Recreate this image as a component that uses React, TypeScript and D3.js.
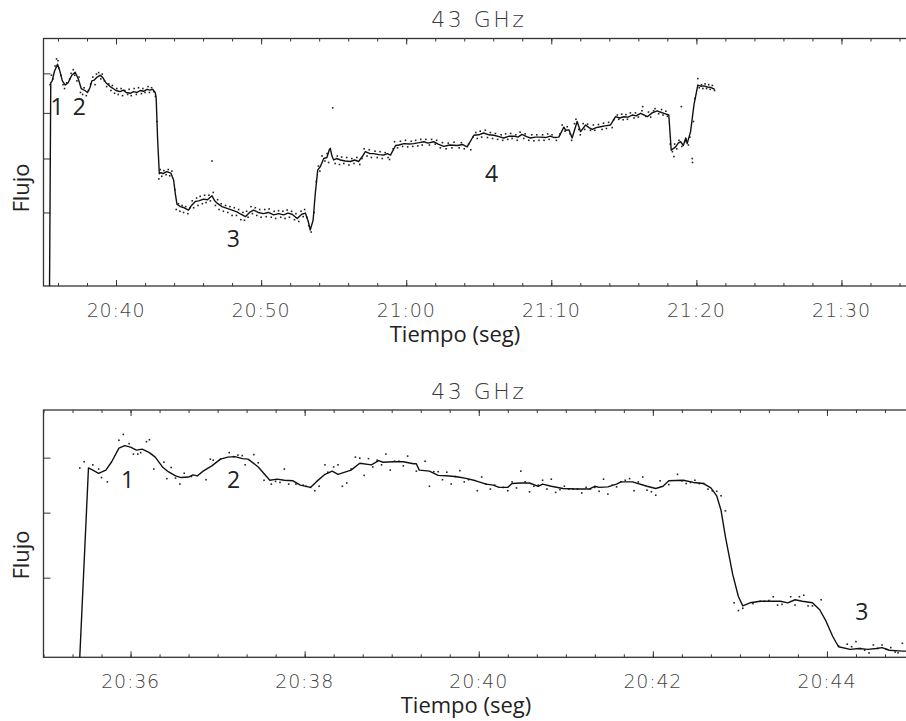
import React, { useRef, useEffect } from 'react';
import * as d3 from 'd3';

// times are minutes after 20:00, flux in arbitrary units (log axis, no labels)

const topLine: [number, number][] = [
    [35.41, 3.9], [35.5, 7.75], [35.6, 7.8], [35.75, 8.05], [35.97, 8.25], [36.1, 8.1], [36.3, 7.8],
    [36.5, 7.69], [36.7, 7.75], [36.95, 7.95], [37.19, 8.03], [37.4, 7.85], [37.6, 7.6], [37.85, 7.55],
    [38.03, 7.5], [38.2, 7.62], [38.34, 7.8], [38.5, 7.82], [38.7, 7.9], [38.91, 7.95], [39.1, 7.88],
    [39.3, 7.75], [39.6, 7.65], [39.8, 7.6], [40.0, 7.55], [40.29, 7.52], [40.5, 7.56], [40.7, 7.5],
    [40.98, 7.48], [41.2, 7.52], [41.45, 7.5], [41.67, 7.55], [41.9, 7.53], [42.13, 7.58], [42.35, 7.56],
    [42.54, 7.58], [42.7, 7.5], [42.77, 7.35], [42.86, 6.4], [42.98, 5.7], [43.1, 5.72], [43.23, 5.7],
    [43.5, 5.74], [43.79, 5.71], [43.97, 5.58], [44.1, 5.3], [44.2, 5.14], [44.43, 5.1], [44.7, 5.08],
    [45.0, 5.04], [45.2, 5.12], [45.46, 5.19], [45.7, 5.2], [46.03, 5.23], [46.3, 5.22], [46.61, 5.29],
    [46.8, 5.2], [46.96, 5.16], [47.3, 5.1], [47.65, 5.07], [48.0, 5.04], [48.34, 5.01], [48.6, 4.97],
    [48.91, 4.93], [49.2, 5.0], [49.48, 5.04], [49.8, 5.0], [50.17, 4.98], [50.5, 5.0], [50.86, 4.96],
    [51.2, 4.98], [51.55, 4.96], [51.85, 4.99], [52.13, 4.97], [52.48, 4.9], [52.8, 4.97], [53.05, 4.99],
    [53.25, 4.85], [53.39, 4.71], [53.58, 4.87], [53.74, 5.33], [53.9, 5.77], [54.09, 5.84], [54.31, 6.0],
    [54.54, 6.02], [54.7, 6.18], [54.77, 6.21], [54.88, 6.05], [55.0, 5.97], [55.2, 6.0], [55.46, 5.97],
    [55.8, 5.95], [56.15, 5.94], [56.45, 5.97], [56.72, 5.94], [57.0, 6.05], [57.19, 6.14], [57.5, 6.1],
    [57.76, 6.1], [58.1, 6.08], [58.45, 6.07], [58.7, 6.1], [58.91, 6.07], [59.26, 6.27], [59.5, 6.28],
    [59.83, 6.31], [60.2, 6.3], [60.52, 6.31], [60.9, 6.33], [61.21, 6.35], [61.5, 6.32], [61.9, 6.35],
    [62.2, 6.3], [62.59, 6.25], [63.0, 6.28], [63.51, 6.27], [63.9, 6.29], [64.2, 6.24], [64.66, 6.49],
    [65.0, 6.5], [65.34, 6.54], [65.7, 6.5], [66.03, 6.49], [66.4, 6.46], [66.72, 6.43], [67.1, 6.47],
    [67.41, 6.47], [67.7, 6.45], [67.99, 6.51], [68.3, 6.46], [68.57, 6.43], [68.9, 6.45], [69.26, 6.45],
    [69.6, 6.44], [69.94, 6.47], [70.2, 6.44], [70.52, 6.45], [70.86, 6.67], [71.0, 6.6], [71.21, 6.61],
    [71.44, 6.43], [71.79, 6.8], [72.01, 6.57], [72.36, 6.72], [72.6, 6.66], [72.82, 6.62], [73.1, 6.66],
    [73.39, 6.68], [73.7, 6.7], [74.08, 6.72], [74.43, 6.91], [74.7, 6.88], [75.0, 6.91], [75.3, 6.9],
    [75.58, 6.95], [75.85, 6.93], [76.15, 6.99], [76.4, 6.95], [76.61, 6.91], [76.95, 7.0], [77.3, 7.05],
    [77.5, 7.02], [77.76, 6.99], [78.1, 6.95], [78.27, 6.17], [78.57, 6.24], [78.75, 6.32], [78.91, 6.35],
    [79.1, 6.27], [79.26, 6.43], [79.37, 6.31], [79.6, 6.57], [79.83, 7.19], [80.1, 7.69], [80.3, 7.66],
    [80.52, 7.67], [80.75, 7.64], [80.98, 7.63], [81.26, 7.58]
];

const topDots: [number, number][] = [
    [35.45, 7.7], [35.55, 7.95], [35.65, 7.85], [35.8, 8.2], [35.9, 8.4], [36.0, 8.35], [36.05, 8.15],
    [36.2, 7.95], [36.35, 7.7], [36.45, 7.6], [36.6, 7.75], [36.8, 7.85], [36.9, 8.0], [37.05, 8.1],
    [37.15, 7.95], [37.3, 7.8], [37.45, 7.9], [37.55, 7.5], [37.7, 7.45], [37.8, 7.62], [37.95, 7.42],
    [38.1, 7.55], [38.25, 7.72], [38.4, 7.9], [38.55, 7.7], [38.65, 7.98], [38.8, 8.02], [38.95, 7.85],
    [39.05, 7.98], [39.2, 7.8], [39.35, 7.65], [39.5, 7.72], [39.65, 7.55], [39.75, 7.68], [39.9, 7.48],
    [40.05, 7.6], [40.15, 7.45], [40.35, 7.6], [40.45, 7.42], [40.6, 7.55], [40.8, 7.45], [40.9, 7.58],
    [41.05, 7.42], [41.25, 7.6], [41.4, 7.45], [41.55, 7.62], [41.75, 7.47], [41.85, 7.6], [42.0, 7.5],
    [42.2, 7.65], [42.3, 7.5], [42.45, 7.62], [42.6, 7.52], [42.72, 7.4], [42.82, 6.8], [42.95, 5.6],
    [43.05, 5.78], [43.15, 5.65], [43.3, 5.76], [43.45, 5.68], [43.6, 5.78], [43.7, 5.66], [43.85, 5.75],
    [44.05, 5.4], [44.15, 5.05], [44.3, 5.15], [44.4, 5.02], [44.55, 5.12], [44.65, 5.0], [44.8, 5.1],
    [44.95, 4.98], [45.1, 5.08], [45.25, 5.2], [45.35, 5.08], [45.55, 5.25], [45.65, 5.12], [45.8, 5.28],
    [45.95, 5.15], [46.1, 5.3], [46.2, 5.17], [46.4, 5.3], [46.5, 5.2], [46.61, 5.95], [46.7, 5.35],
    [46.85, 5.12], [47.0, 5.22], [47.1, 5.05], [47.25, 5.15], [47.4, 5.02], [47.55, 5.12], [47.7, 5.0],
    [47.85, 5.1], [48.0, 4.95], [48.15, 5.08], [48.3, 4.95], [48.45, 5.05], [48.6, 4.88], [48.75, 5.0],
    [48.85, 4.87], [49.0, 5.02], [49.1, 4.92], [49.3, 5.1], [49.4, 4.98], [49.6, 5.08], [49.7, 4.95],
    [49.9, 5.05], [50.0, 4.92], [50.25, 5.05], [50.35, 4.93], [50.55, 5.06], [50.7, 4.92], [50.9, 5.02],
    [51.0, 4.9], [51.2, 5.03], [51.35, 4.92], [51.5, 5.02], [51.65, 4.9], [51.8, 5.04], [51.95, 4.92],
    [52.1, 5.02], [52.3, 4.88], [52.4, 4.98], [52.6, 4.85], [52.75, 5.02], [52.9, 4.93], [53.0, 5.05],
    [53.15, 4.92], [53.3, 4.78], [53.45, 4.68], [53.65, 5.0], [53.8, 5.55], [53.95, 5.85], [54.05, 5.75],
    [54.2, 6.05], [54.4, 5.95], [54.55, 6.1], [54.65, 5.92], [54.93, 7.12], [55.1, 5.9], [55.25, 6.05],
    [55.4, 5.88], [55.55, 6.03], [55.7, 5.9], [55.9, 6.02], [56.05, 5.87], [56.25, 6.0], [56.4, 5.9],
    [56.6, 6.02], [56.8, 5.88], [56.95, 6.0], [57.1, 6.2], [57.3, 6.05], [57.45, 6.18], [57.6, 6.02],
    [57.85, 6.15], [58.0, 6.02], [58.2, 6.14], [58.35, 6.0], [58.55, 6.12], [58.75, 6.02], [58.85, 5.98],
    [59.1, 6.2], [59.2, 6.35], [59.4, 6.22], [59.6, 6.36], [59.75, 6.25], [59.95, 6.38], [60.1, 6.24],
    [60.35, 6.36], [60.45, 6.25], [60.65, 6.38], [60.8, 6.26], [61.0, 6.4], [61.1, 6.28], [61.35, 6.4],
    [61.6, 6.28], [61.75, 6.4], [62.0, 6.3], [62.1, 6.38], [62.35, 6.22], [62.5, 6.33], [62.75, 6.2],
    [62.9, 6.32], [63.15, 6.22], [63.3, 6.34], [63.65, 6.22], [63.8, 6.33], [64.0, 6.2], [64.3, 6.3],
    [64.45, 6.18], [64.6, 6.45], [64.8, 6.55], [64.9, 6.42], [65.1, 6.58], [65.2, 6.45], [65.45, 6.6],
    [65.6, 6.44], [65.8, 6.55], [65.95, 6.42], [66.15, 6.53], [66.3, 6.4], [66.55, 6.5], [66.65, 6.38],
    [66.85, 6.52], [67.0, 6.4], [67.2, 6.53], [67.3, 6.42], [67.55, 6.5], [67.65, 6.38], [67.85, 6.56],
    [68.1, 6.42], [68.2, 6.52], [68.45, 6.38], [68.65, 6.5], [68.8, 6.37], [69.0, 6.5], [69.15, 6.38],
    [69.4, 6.5], [69.5, 6.38], [69.75, 6.52], [69.85, 6.4], [70.05, 6.5], [70.35, 6.38], [70.6, 6.52],
    [70.75, 6.72], [70.95, 6.58], [71.1, 6.68], [71.3, 6.52], [71.4, 6.38], [71.6, 6.75], [71.7, 6.85],
    [71.9, 6.62], [72.0, 6.5], [72.2, 6.75], [72.3, 6.62], [72.5, 6.74], [72.7, 6.6], [72.9, 6.72],
    [73.0, 6.6], [73.25, 6.73], [73.5, 6.62], [73.6, 6.76], [73.8, 6.64], [73.95, 6.78], [74.2, 6.66],
    [74.3, 6.84], [74.55, 6.95], [74.65, 6.85], [74.85, 6.97], [74.95, 6.84], [75.15, 6.96], [75.25, 6.85],
    [75.45, 7.0], [75.7, 6.88], [75.8, 7.0], [76.0, 6.9], [76.25, 7.05], [76.3, 7.15], [76.5, 6.92],
    [76.7, 7.02], [76.85, 6.9], [77.05, 7.05], [77.15, 7.1], [77.4, 6.98], [77.6, 7.08], [77.7, 6.95],
    [77.9, 7.04], [78.0, 6.92], [78.2, 6.3], [78.35, 6.14], [78.45, 6.04], [78.5, 6.3], [78.65, 6.2],
    [78.8, 6.38], [78.96, 7.15], [79.0, 6.25], [79.2, 6.35], [79.3, 6.4], [79.45, 6.28], [79.55, 6.45],
    [79.72, 6.0], [79.74, 5.92], [79.8, 6.8], [79.9, 7.35], [80.1, 7.86], [80.2, 7.62], [80.35, 7.7],
    [80.45, 7.6], [80.6, 7.72], [80.7, 7.6], [80.85, 7.7], [80.95, 7.58], [81.1, 7.68], [81.25, 7.55]
];

const bottomLine: [number, number][] = [
    [35.41, 4.0], [35.52, 6.8], [35.57, 6.76], [35.63, 6.7], [35.71, 6.76], [35.79, 6.92], [35.86, 7.19],
    [35.94, 7.24], [36.0, 7.21], [36.07, 7.15], [36.13, 7.17], [36.21, 7.1], [36.28, 7.01], [36.36, 6.82],
    [36.43, 6.73], [36.51, 6.65], [36.59, 6.62], [36.66, 6.63], [36.72, 6.67], [36.76, 6.65], [36.84, 6.74],
    [36.93, 6.84], [37.03, 6.97], [37.12, 7.01], [37.2, 7.02], [37.28, 6.98], [37.35, 6.97], [37.47, 6.82],
    [37.6, 6.57], [37.68, 6.59], [37.77, 6.57], [37.87, 6.56], [37.95, 6.48], [38.06, 6.44], [38.14, 6.54],
    [38.23, 6.68], [38.31, 6.74], [38.39, 6.68], [38.53, 6.76], [38.64, 6.89], [38.77, 6.86], [38.85, 6.94],
    [38.9, 6.91], [39.02, 6.92], [39.13, 6.92], [39.25, 6.88], [39.29, 6.88], [39.32, 6.76], [39.44, 6.74],
    [39.53, 6.66], [39.67, 6.65], [39.76, 6.63], [39.86, 6.6], [39.97, 6.56], [40.09, 6.5], [40.16, 6.48],
    [40.24, 6.44], [40.34, 6.44], [40.39, 6.51], [40.49, 6.52], [40.59, 6.52], [40.68, 6.46], [40.74, 6.5],
    [40.84, 6.46], [40.97, 6.42], [41.12, 6.41], [41.27, 6.41], [41.33, 6.46], [41.39, 6.44], [41.48, 6.45],
    [41.58, 6.5], [41.64, 6.54], [41.77, 6.54], [41.93, 6.46], [42.04, 6.42], [42.12, 6.46], [42.19, 6.56],
    [42.35, 6.57], [42.46, 6.53], [42.58, 6.51], [42.67, 6.43], [42.74, 6.29], [42.79, 6.04], [42.84, 5.61],
    [42.92, 5.05], [42.98, 4.74], [43.03, 4.62], [43.11, 4.66], [43.23, 4.68], [43.34, 4.68], [43.46, 4.68],
    [43.55, 4.66], [43.63, 4.7], [43.72, 4.68], [43.84, 4.66], [43.91, 4.57], [43.99, 4.44], [44.07, 4.24],
    [44.14, 4.12], [44.26, 4.09], [44.37, 4.1], [44.47, 4.09], [44.57, 4.1], [44.64, 4.11], [44.72, 4.08],
    [44.87, 4.07], [45.0, 4.07]
];

const bottomDots: [number, number][] = [
    [35.42, 6.8], [35.47, 6.92], [35.57, 6.86], [35.63, 6.78], [35.67, 6.62], [35.73, 6.54], [35.87, 7.35],
    [35.92, 7.47], [35.98, 7.28], [36.03, 7.07], [36.08, 7.07], [36.12, 7.1], [36.18, 7.32], [36.22, 7.36],
    [36.27, 6.78], [36.38, 6.91], [36.42, 6.6], [36.47, 6.81], [36.52, 6.61], [36.57, 6.5], [36.62, 6.7],
    [36.7, 6.64], [36.86, 6.58], [36.91, 6.97], [36.95, 6.95], [37.03, 6.97], [37.13, 7.1], [37.18, 7.02],
    [37.23, 7.05], [37.28, 7.04], [37.32, 6.86], [37.42, 7.06], [37.47, 6.9], [37.53, 6.57], [37.61, 6.5],
    [37.67, 6.55], [37.72, 6.53], [37.77, 6.78], [37.82, 6.5], [37.9, 6.5], [37.98, 6.48], [38.02, 6.46],
    [38.07, 6.44], [38.12, 6.38], [38.17, 6.46], [38.23, 6.86], [38.27, 6.72], [38.33, 6.82], [38.39, 6.86],
    [38.44, 6.46], [38.49, 6.52], [38.54, 6.78], [38.59, 7.01], [38.64, 6.99], [38.69, 6.66], [38.74, 6.98],
    [38.79, 6.82], [38.84, 6.95], [38.89, 6.86], [38.94, 7.07], [38.99, 6.76], [39.04, 6.93], [39.09, 6.93],
    [39.14, 6.84], [39.19, 7.03], [39.29, 6.74], [39.39, 6.93], [39.44, 6.46], [39.49, 6.73], [39.54, 6.73],
    [39.59, 6.58], [39.64, 6.72], [39.69, 6.5], [39.74, 6.64], [39.79, 6.75], [39.84, 6.54], [39.89, 6.58],
    [39.99, 6.38], [40.04, 6.63], [40.09, 6.5], [40.14, 6.41], [40.19, 6.48], [40.29, 6.44], [40.34, 6.38],
    [40.39, 6.54], [40.44, 6.43], [40.49, 6.74], [40.54, 6.54], [40.59, 6.36], [40.64, 6.46], [40.69, 6.48],
    [40.74, 6.57], [40.78, 6.41], [40.84, 6.59], [40.88, 6.35], [40.93, 6.4], [40.98, 6.46], [41.03, 6.41],
    [41.08, 6.41], [41.13, 6.41], [41.19, 6.34], [41.24, 6.44], [41.29, 6.41], [41.34, 6.44], [41.39, 6.37],
    [41.44, 6.59], [41.49, 6.32], [41.54, 6.48], [41.58, 6.45], [41.63, 6.54], [41.69, 6.57], [41.74, 6.6],
    [41.79, 6.38], [41.84, 6.54], [41.89, 6.63], [41.94, 6.39], [41.99, 6.36], [42.04, 6.3], [42.09, 6.56],
    [42.19, 6.49], [42.29, 6.68], [42.34, 6.56], [42.39, 6.51], [42.44, 6.53], [42.49, 6.57], [42.54, 6.51],
    [42.59, 6.51], [42.64, 6.41], [42.69, 6.38], [42.74, 6.37], [42.79, 6.29], [42.84, 6.03], [42.94, 4.66],
    [42.99, 4.56], [43.04, 4.59], [43.15, 4.65], [43.24, 4.68], [43.29, 4.68], [43.34, 4.69], [43.39, 4.74],
    [43.44, 4.63], [43.49, 4.64], [43.59, 4.74], [43.64, 4.63], [43.69, 4.74], [43.73, 4.76], [43.78, 4.62],
    [43.84, 4.62], [43.93, 4.7], [44.13, 4.13], [44.24, 4.15], [44.29, 4.12], [44.34, 4.18], [44.38, 4.1],
    [44.43, 4.08], [44.48, 4.05], [44.53, 4.14], [44.58, 4.1], [44.63, 4.14], [44.68, 4.09], [44.73, 4.11],
    [44.78, 4.06], [44.82, 4.05], [44.87, 4.16]
];

// peak / phase numbers: [label, minute, flux]
const topMarks: [string, number, number][] = [
    ['1', 35.94, 6.95], ['2', 37.46, 6.95], ['3', 48.08, 4.45], ['4', 65.88, 5.54]
];
const bottomMarks: [string, number, number][] = [
    ['1', 35.97, 6.43], ['2', 37.18, 6.43], ['3', 44.4, 4.44]
];

const topYTicks = [5, 6, 7, 8];
const bottomYTicks = [5, 6, 7];

const toDate = (m: number) => new Date(2000, 0, 1, 20, 0, Math.round(m * 60));

interface PanelConfig {
    top: number;
    bottom: number;
    start: number;
    end: number;
    yDomain: [number, number];
    yTicks: number[];
    major: d3.TimeInterval;
    minor: d3.TimeInterval;
    line: [number, number][];
    dots: [number, number][];
    marks: [string, number, number][];
    xLabelX: number;
    flujoY: number;
    id: string;
}

const LEFT = 43.5;
const RIGHT = 914;
const THIN = "'DejaVu Sans', sans-serif";
const SANS = "'Open Sans', 'Noto Sans', sans-serif";
const AXIS = '#333';

const App: React.FC = () => {
    const svgRef = useRef<SVGSVGElement | null>(null);

    useEffect(() => {
        const svg = d3.select(svgRef.current);
        svg.selectAll('*').remove();

        const panels: PanelConfig[] = [
            {
                id: 'top', top: 38.5, bottom: 286, start: 35, end: 95,
                yDomain: [3.9, 9], yTicks: topYTicks,
                major: d3.timeMinute.every(10)!, minor: d3.timeMinute.every(2)!,
                line: topLine, dots: topDots, marks: topMarks, xLabelX: 455, flujoY: 188
            },
            {
                id: 'bottom', top: 410, bottom: 657.3, start: 35, end: 45,
                yDomain: [4, 8], yTicks: bottomYTicks,
                major: d3.timeMinute.every(2)!, minor: d3.timeSecond.every(20)!,
                line: bottomLine, dots: bottomDots, marks: bottomMarks, xLabelX: 466, flujoY: 555
            }
        ];

        panels.forEach(p => {
            const x = d3.scaleTime().domain([toDate(p.start), toDate(p.end)]).range([LEFT, RIGHT]);
            const y = d3.scaleLog().domain(p.yDomain).range([p.bottom, p.top]);
            const g = svg.append('g');

            g.append('clipPath').attr('id', `clip-${p.id}`)
                .append('rect')
                .attr('x', LEFT).attr('y', p.top)
                .attr('width', RIGHT - LEFT).attr('height', p.bottom - p.top);

            // x ticks, bottom and top, pointing inward
            const tickSets: [d3.TimeInterval, number][] = [[p.minor, 3], [p.major, 6]];
            tickSets.forEach(([interval, len]) => {
                g.append('g')
                    .attr('transform', `translate(0,${p.bottom})`)
                    .call(d3.axisBottom(x).ticks(interval).tickSize(-len).tickFormat(() => ''))
                    .call(a => a.select('.domain').remove())
                    .call(a => a.selectAll('line').attr('stroke', AXIS).attr('stroke-width', 1));
                g.append('g')
                    .attr('transform', `translate(0,${p.top})`)
                    .call(d3.axisTop(x).ticks(interval).tickSize(-len).tickFormat(() => ''))
                    .call(a => a.select('.domain').remove())
                    .call(a => a.selectAll('line').attr('stroke', AXIS).attr('stroke-width', 1));
            });

            // y ticks, left and right, no labels
            g.append('g')
                .attr('transform', `translate(${LEFT},0)`)
                .call(d3.axisLeft(y).tickValues(p.yTicks).tickSize(-7).tickFormat(() => ''))
                .call(a => a.select('.domain').remove())
                .call(a => a.selectAll('line').attr('stroke', AXIS).attr('stroke-width', 1));
            g.append('g')
                .attr('transform', `translate(${RIGHT},0)`)
                .call(d3.axisRight(y).tickValues(p.yTicks).tickSize(-8).tickFormat(() => ''))
                .call(a => a.select('.domain').remove())
                .call(a => a.selectAll('line').attr('stroke', AXIS).attr('stroke-width', 1));

            // frame
            g.append('rect')
                .attr('x', LEFT).attr('y', p.top)
                .attr('width', RIGHT - LEFT).attr('height', p.bottom - p.top)
                .attr('fill', 'none').attr('stroke', AXIS).attr('stroke-width', 1.3);

            // tick labels
            const fmt = d3.timeFormat('%H:%M');
            g.append('g').selectAll('text')
                .data(x.ticks(p.major))
                .join('text')
                .attr('x', d => x(d))
                .attr('y', p.bottom + 31)
                .attr('text-anchor', 'middle')
                .style('font-family', THIN)
                .style('font-weight', 200)
                .style('font-size', '19px')
                .style('letter-spacing', '0.8px')
                .attr('fill', '#444')
                .text(d => fmt(d));

            // title
            g.append('text')
                .attr('x', (LEFT + RIGHT) / 2)
                .attr('y', p.top - 11.5)
                .attr('text-anchor', 'middle')
                .style('font-family', THIN)
                .style('font-weight', 200)
                .style('font-size', '22px')
                .style('letter-spacing', '2.5px')
                .attr('fill', '#3a3a3a')
                .text('43 GHz');

            // axis names
            g.append('text')
                .attr('x', p.xLabelX)
                .attr('y', p.bottom + 56)
                .attr('text-anchor', 'middle')
                .style('font-family', SANS)
                .style('font-size', '22px')
                .attr('fill', '#222')
                .text('Tiempo (seg)');
            g.append('text')
                .attr('transform', `translate(29,${p.flujoY}) rotate(-90)`)
                .attr('text-anchor', 'middle')
                .style('font-family', SANS)
                .style('font-size', '22px')
                .attr('fill', '#222')
                .text('Flujo');

            // data
            const data = g.append('g').attr('clip-path', `url(#clip-${p.id})`);
            data.selectAll('rect.dot')
                .data(p.dots)
                .join('rect')
                .attr('class', 'dot')
                .attr('x', d => x(toDate(d[0])) - 0.8)
                .attr('y', d => y(d[1]) - 0.8)
                .attr('width', 1.6)
                .attr('height', 1.6)
                .attr('fill', '#222');

            const line = d3.line<[number, number]>()
                .x(d => x(toDate(d[0])))
                .y(d => y(d[1]));
            data.append('path')
                .datum(p.line)
                .attr('d', line)
                .attr('fill', 'none')
                .attr('stroke', '#111')
                .attr('stroke-width', 1.4)
                .attr('stroke-linejoin', 'round');

            // numbers
            g.append('g').selectAll('text')
                .data(p.marks)
                .join('text')
                .attr('x', d => x(toDate(d[1])))
                .attr('y', d => y(d[2]))
                .attr('text-anchor', 'middle')
                .style('font-family', SANS)
                .style('font-size', '23px')
                .attr('fill', '#222')
                .text(d => d[0]);
        });
    }, []);

    return (
        <svg
            ref={svgRef}
            width={906}
            height={721}
            style={{ position: 'absolute', left: 0, top: 0, background: '#fff', overflow: 'hidden' }}
        />
    );
};

export default App;
